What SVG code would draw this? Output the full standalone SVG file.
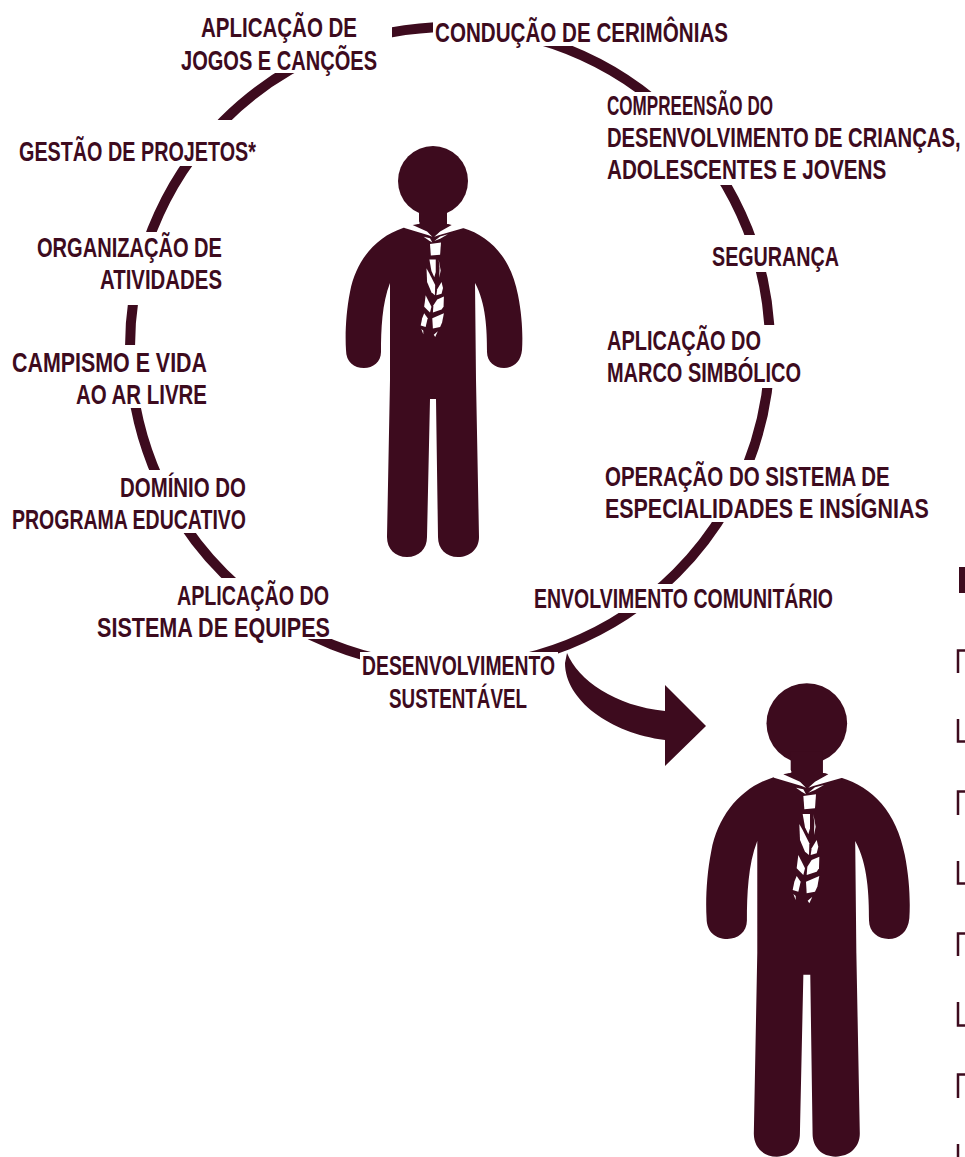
<svg xmlns="http://www.w3.org/2000/svg" width="965" height="1157" viewBox="0 0 965 1157">
<style>
.t{font-family:"Liberation Sans Narrow","Liberation Sans",Roboto,sans-serif;font-size:28px;font-weight:700;fill:#3d0b1e}
.d{fill:#3d0b1e}
.w{fill:#fff}
.m{fill:none;stroke:#3d0b1e;stroke-width:2.5}
</style>
<defs>
<g id="person">
<circle class="d" cx="433" cy="181" r="35"/>
<path class="d" d="M419 205H447V224L454 224.5L463 228C490 236 511 258 518 295C522 315 523 335 522 350C521 362 513 368 504 368C495 368 487 362 487 352C487 330 486 303 475 283L476 380L479 537C479 549 470 557 458 557C446 557 438 549 438 537L436 399H430L427 537C427 549 419 557 407 557C395 557 387 549 387 537L390 380V283C382 303 381 330 381 352C381 362 373 368 364 368C354 368 346 362 346 350C345 335 346 312 350 292C356 260 376 237 403 228L412 224.5L419 224Z"/>
<g class="w" transform="translate(340.28 195.31) scale(.28935)">
<polygon points="205,90 272,90 275,97 250,103 300,125 318,143 305,138 222,113"/>
<polygon points="445,90 373,90 370,97 385,103 345,125 325,143 340,138 427,113"/>
<polygon points="288,143 310,148 318,163 305,155"/>
<polygon points="325,158 345,142 372,135 345,150"/>
<polygon points="310,168 348,163 345,205 313,208"/>
<polygon points="308,222 330,222 330,265 325,283 315,262"/>
<polygon points="340,222 347,260 342,285 343,250"/>
<polygon points="298,252 308,270 328,310 327,345 315,335 300,300"/>
<polygon points="350,300 355,320 350,340 332,345 335,325"/>
<polygon points="358,350 357,385 350,395 320,405 322,380 335,360"/>
<polygon points="295,345 315,385 310,405 290,385"/>
<polygon points="358,408 352,440 345,455 320,460 318,425"/>
<polygon points="290,408 302,425 295,455 278,450 283,425"/>
<polygon points="280,462 287,468 287,480"/>
<polygon points="337,470 328,490 323,482"/>
</g>
</g>
</defs>
<g id="connectors">
<circle cx="450" cy="347" r="320" fill="none" stroke="#3d0b1e" stroke-width="10"/>
<path class="d" d="M567 653C578 680 615 706 665 711V685L706 726L665 766V740C610 733 565 700 565 663Z"/>
</g>
<g id="masks" class="w">
<rect x="175" y="5" width="217" height="68"/>
<rect x="433" y="10" width="300" height="36"/>
<rect x="603" y="92" width="362" height="93"/>
<rect x="708" y="235" width="135" height="37"/>
<rect x="603" y="325" width="202" height="63"/>
<rect x="601" y="460" width="332" height="62"/>
<rect x="530" y="584" width="306" height="29"/>
<rect x="360" y="652" width="198" height="60"/>
<rect x="93" y="578" width="240" height="61"/>
<rect x="8" y="470" width="241" height="63"/>
<rect x="8" y="345" width="202" height="63"/>
<rect x="33" y="232" width="192" height="73"/>
<rect x="15" y="120" width="243" height="46"/>
</g>
<g id="person-small"><use href="#person"/></g>
<g id="person-large"><use href="#person" transform="translate(308 515) scale(1.152)"/></g>
<g id="legend-edge">
<rect class="d" x="959" y="567" width="6" height="26"/>
<path class="m" d="M958 673V650.5H965M958 719V741.5H965M958 815V791.5H965M958 861V883.5H965M958 956V933.5H965M958 1002V1025.5H965M958 1098V1074.5H965M958 1144V1157"/>
</g>
<g id="n1"><text class="t" x="201" y="37" textLength="156" lengthAdjust="spacingAndGlyphs">APLICAÇÃO DE</text><text class="t" x="181" y="70" textLength="196" lengthAdjust="spacingAndGlyphs">JOGOS E CANÇÕES</text></g>
<g id="n2"><text class="t" x="435" y="42" textLength="293" lengthAdjust="spacingAndGlyphs">CONDUÇÃO DE CERIMÔNIAS</text></g>
<g id="n3"><text class="t" x="607" y="115" textLength="166" lengthAdjust="spacingAndGlyphs">COMPREENSÃO DO</text><text class="t" transform="translate(607 147) scale(.68 1)" textLength="520" lengthAdjust="spacingAndGlyphs">DESENVOLVIMENTO DE CRIANÇAS,</text><text class="t" transform="translate(607 179) scale(.78 1)" textLength="358" lengthAdjust="spacingAndGlyphs">ADOLESCENTES E JOVENS</text></g>
<g id="n4"><text class="t" x="712" y="266" textLength="127" lengthAdjust="spacingAndGlyphs">SEGURANÇA</text></g>
<g id="n5"><text class="t" x="607" y="350" textLength="154" lengthAdjust="spacingAndGlyphs">APLICAÇÃO DO</text><text class="t" x="607" y="382" textLength="194" lengthAdjust="spacingAndGlyphs">MARCO SIMBÓLICO</text></g>
<g id="n6"><text class="t" transform="translate(605 486) scale(.78 1)" textLength="365" lengthAdjust="spacingAndGlyphs">OPERAÇÃO DO SISTEMA DE</text><text class="t" transform="translate(605 518) scale(.78 1)" textLength="415" lengthAdjust="spacingAndGlyphs">ESPECIALIDADES E INSÍGNIAS</text></g>
<g id="n7"><text class="t" x="534" y="608" textLength="299" lengthAdjust="spacingAndGlyphs">ENVOLVIMENTO COMUNITÁRIO</text></g>
<g id="n8"><text class="t" x="362" y="675" textLength="193" lengthAdjust="spacingAndGlyphs">DESENVOLVIMENTO</text><text class="t" x="389" y="708" textLength="138" lengthAdjust="spacingAndGlyphs">SUSTENTÁVEL</text></g>
<g id="n9"><text class="t" x="177" y="605" textLength="152" lengthAdjust="spacingAndGlyphs">APLICAÇÃO DO</text><text class="t" x="97" y="637" textLength="233" lengthAdjust="spacingAndGlyphs">SISTEMA DE EQUIPES</text></g>
<g id="n10"><text class="t" x="120" y="497" textLength="126" lengthAdjust="spacingAndGlyphs">DOMÍNIO DO</text><text class="t" x="12" y="529" textLength="234" lengthAdjust="spacingAndGlyphs">PROGRAMA EDUCATIVO</text></g>
<g id="n11"><text class="t" x="12" y="372" textLength="195" lengthAdjust="spacingAndGlyphs">CAMPISMO E VIDA</text><text class="t" x="76" y="404" textLength="131" lengthAdjust="spacingAndGlyphs">AO AR LIVRE</text></g>
<g id="n12"><text class="t" x="37" y="257" textLength="185" lengthAdjust="spacingAndGlyphs">ORGANIZAÇÃO DE</text><text class="t" x="100" y="289" textLength="122" lengthAdjust="spacingAndGlyphs">ATIVIDADES</text></g>
<g id="n13"><text class="t" x="19" y="161" textLength="237" lengthAdjust="spacingAndGlyphs">GESTÃO DE PROJETOS*</text></g>
</svg>
